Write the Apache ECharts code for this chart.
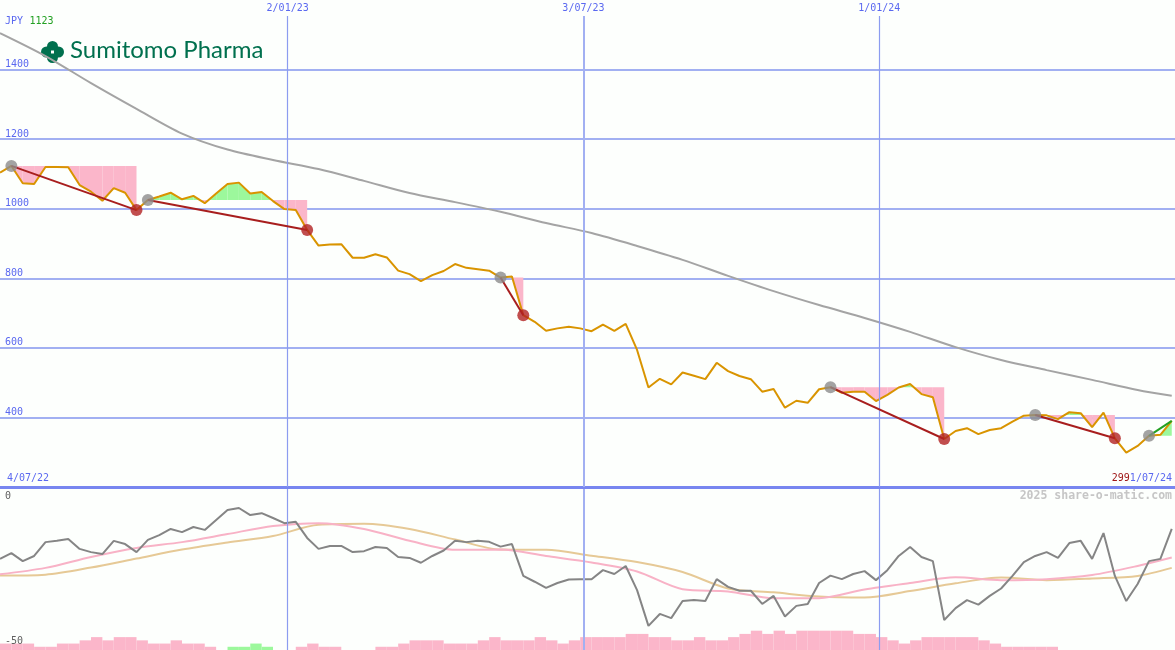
<!DOCTYPE html>
<html><head><meta charset="utf-8">
<script src="https://cdn.jsdelivr.net/npm/echarts@6/dist/echarts.min.js"></script>
<style>html,body{margin:0;padding:0;background:#fdfffd;}#c{width:1175px;height:650px;}</style>
</head><body><div id="c"></div>
<script>
// ---------- DATA ----------
// weekly closes (JPY), one per week starting at firstWeek
const firstWeekISO = '2022-07-09';
const axisEndISO = '2024-07-01';
const closePrice = [1104,1123,1073,1071,1120,1120,1119,1068,1049,1023,
  1059,1046,996,1025,1035,1046,1027,1037,1016,1044,
  1071,1075,1044,1048,1022,999,996,939,894,897,
  898,859,859,869,860,822,812,792,809,821,
  841,830,826,822,802,805,694,675,649,656,
  661,656,648,667,649,669,594,486,511,495,
  529,520,510,557,533,519,510,474,482,428,
  448,442,481,487,471,474,474,447,465,486,
  496,467,458,338,361,369,352,364,369,388,
  405,407,406,395,415,412,372,414,340,299,
  318,347,350,390];
// long moving average of price, sampled at these week indices
const maWeeks = [0,4,8,12,16,20,24,28,32,36,40,44,48,52,56,60,64,68,72,76,80,84,88,92,96,100,103];
const priceMA = [1505,1439,1361,1287,1216,1170,1140,1114,1080,1045,1019,991,959,930,893,853,807,763,723,686,646,602,565,536,508,479,462];
// drawdown segments: start (peak) week index -> end week index
const segStart = [1,13,44,73,91,101];
const segEnd   = [12,27,46,83,98,103];
// lower panel oscillator (weekly)
const oscValues = [-21.7,-19.9,-22.4,-20.8,-16.5,-16.1,-15.5,-18.6,-19.6,-20.2,
  -16.1,-17.1,-19.6,-15.8,-14.3,-12.4,-13.4,-11.8,-12.7,-9.6,
  -6.5,-5.9,-8.1,-7.5,-9.0,-10.6,-10.2,-15.2,-18.6,-17.7,
  -17.7,-19.6,-19.3,-18.0,-18.3,-21.1,-21.4,-22.9,-20.8,-19.1,
  -16.1,-16.5,-16.1,-16.4,-17.9,-17.1,-27.0,-28.8,-30.7,-29.2,
  -28.1,-28.0,-28.0,-25.2,-26.4,-23.9,-31.4,-42.5,-38.8,-40.1,
  -34.8,-34.5,-34.8,-28.0,-30.4,-31.6,-31.6,-35.7,-33.2,-39.6,
  -36.3,-35.7,-29.2,-26.9,-28.0,-26.4,-25.5,-28.3,-25.2,-20.8,
  -18.0,-21.1,-22.4,-40.7,-37.0,-34.5,-35.9,-33.2,-30.9,-27.0,
  -22.7,-20.8,-19.6,-21.4,-16.8,-16.1,-21.7,-13.7,-27.0,-34.8,
  -29.5,-22.4,-21.7,-12.4];
const oscFast = [-26.5,-24.5,-21.1,-18.3,-16.5,-14.0,-11.5,-10.6,-12.4,-16.1,-18.9,-18.8,-20.8,-22.8,-25.6,-31.1,-31.8,-33.9,-33.9,-31.2,-29.2,-27.4,-28.3,-28.0,-26.7,-23.9,-21.3];
const oscSlow = [-26.9,-26.6,-24.4,-21.6,-18.8,-16.6,-14.6,-11.1,-10.8,-12.4,-15.7,-18.8,-18.9,-20.7,-22.7,-25.8,-30.9,-32.1,-33.4,-33.7,-31.7,-29.3,-27.5,-28.3,-27.8,-27.0,-24.5];
// histogram per week interval (positive = pink, negative = green)
const histValues = [2,2,2,1,1,2,2,3,4,3,
  4,4,3,2,2,3,2,2,1,0,
  -1,-1,-2,-1,0,0,1,2,1,1,
  0,0,0,1,1,2,3,3,3,2,
  2,2,3,4,3,3,3,4,3,2,
  3,4,4,4,4,5,5,4,4,3,
  3,4,3,3,4,5,6,5,6,5,
  6,6,6,6,6,5,5,4,3,2,
  3,4,4,4,4,4,3,2,1,1,
  1,1,1,0,0,0,0,0,0,0,
  0,0,0];
const vLineDates = ['2023-01-02','2023-07-03','2024-01-01'];
const vLineLabels = ['2/01/23','3/07/23','1/01/24'];
const startLabel = '4/07/22';
const endLabel = '1/07/24';
const currency = 'JPY';

// ---------- BUILD ----------
const DAY = 864e5;
const t0 = Date.parse(firstWeekISO);
const weekDates = closePrice.map((_, i) => t0 + i * 7 * DAY);
const xMin = t0, xMax = Date.parse(axisEndISO);
const PINK = '#fbb6ca', GREEN = '#9cf89c';
const mono = '"DejaVu Sans Mono", monospace';
const BLUE = '#5a68f0';
const GRIDC = '#a2b0f2';
const vTopValue = 1554;

const shadeData = [];
segStart.forEach((s, k) => {
  const e = segEnd[k];
  for (let i = s; i < e; i++) {
    shadeData.push([weekDates[i], closePrice[i], weekDates[i + 1], closePrice[i + 1], closePrice[s]]);
  }
});
function renderShade(params, api) {
  const a0 = api.value(0), p0 = api.value(1), a1 = api.value(2), p1 = api.value(3), L = api.value(4);
  const A = api.coord([a0, p0]), B = api.coord([a1, p1]);
  const LA = api.coord([a0, L]), LB = api.coord([a1, L]);
  const d0 = p0 - L, d1 = p1 - L;
  const col = d => d > 0 ? GREEN : PINK;
  const polys = [];
  if ((d0 >= 0 && d1 >= 0) || (d0 <= 0 && d1 <= 0)) {
    polys.push({ pts: [LA, A, B, LB], c: (d0 + d1) > 0 ? GREEN : PINK });
  } else {
    const f = d0 / (d0 - d1);
    const C = api.coord([a0 + f * (a1 - a0), L]);
    polys.push({ pts: [LA, A, C], c: col(d0) });
    polys.push({ pts: [C, B, LB], c: col(d1) });
  }
  return { type: 'group', children: polys.map(p => ({ type: 'polygon', shape: { points: p.pts }, style: { fill: p.c } })) };
}
const histData = histValues.map((h, i) => [weekDates[i], weekDates[i + 1], h]);
function renderHist(params, api) {
  const a0 = api.value(0), a1 = api.value(1), h = api.value(2);
  if (!h) return null;
  const P0 = api.coord([a0, 0]), P1 = api.coord([a1, Math.abs(h)]);
  return { type: 'rect', shape: { x: P0[0], y: P1[1], width: P1[0] - P0[0], height: P0[1] - P1[1] }, style: { fill: h > 0 ? PINK : GREEN } };
}

const vWidths = [1.2, 2, 1.2];
const vColors = ['#8c9cf0', GRIDC, '#8c9cf0'];
const topVLines = vLineDates.map((d, k) => [
  { coord: [Date.parse(d), vTopValue], lineStyle: { width: vWidths[k], color: vColors[k] }, label: { formatter: vLineLabels[k] } },
  { coord: [Date.parse(d), 200] }
]);
const botVLines = vLineDates.map((d, k) => ({ xAxis: Date.parse(d), lineStyle: { width: vWidths[k], color: vColors[k] } }));

const trendSeries = segStart.map((s, k) => {
  const e = segEnd[k];
  const rising = closePrice[e] > closePrice[s];
  return {
    type: 'line', xAxisIndex: 0, yAxisIndex: 0, z: 5, silent: true, showSymbol: false,
    data: [[weekDates[s], closePrice[s]], [weekDates[e], closePrice[e]]],
    lineStyle: { color: rising ? '#22a022' : '#a81e1e', width: 2 }
  };
});
const peakPts = segStart.map(s => [weekDates[s], closePrice[s]]);
const troughPts = segStart.map((s, k) => segEnd[k]).filter((e, k) => closePrice[e] < closePrice[segStart[k]]).map(e => [weekDates[e], closePrice[e]]);

const maxP = Math.max(...closePrice), minP = Math.min(...closePrice);
const lowLabel = { inside: true, margin: 5, color: '#606060', fontFamily: mono, fontSize: 10, formatter: v => String(v) };

const chart = echarts.init(document.getElementById('c'), null, { renderer: 'canvas' });
chart.setOption({
  backgroundColor: '#fdfffd',
  animation: false,
  grid: [
    { left: 0, right: 0, top: 0, height: 487 },
    { left: 0, right: 0, top: 489, height: 161 }
  ],
  xAxis: [
    { type: 'time', gridIndex: 0, min: xMin, max: xMax,
      axisLine: { show: true, onZero: false, lineStyle: { color: '#7886f0', width: 3 } },
      axisTick: { show: false }, axisLabel: { show: false }, splitLine: { show: false } },
    { type: 'time', gridIndex: 1, min: xMin, max: xMax, show: false }
  ],
  yAxis: [
    { type: 'value', gridIndex: 0, min: 200, max: 1600, interval: 200,
      axisLine: { show: false }, axisTick: { show: false },
      axisLabel: { inside: true, margin: 5, verticalAlign: 'bottom', padding: [0, 0, 0, 0], color: BLUE, fontFamily: mono, fontSize: 10, showMinLabel: false, showMaxLabel: false, formatter: v => String(v) },
      splitLine: { show: true, showMinLine: false, showMaxLine: false, lineStyle: { color: GRIDC, width: 2 } } },
    { type: 'value', gridIndex: 1, position: 'left', offset: 0, min: -50, max: 0, interval: 50, z: 10,
      axisLine: { show: false }, axisTick: { show: false }, splitLine: { show: false },
      axisLabel: Object.assign({}, lowLabel, { verticalAlign: 'top', padding: [2, 0, 0, 0], showMinLabel: false }) },
    { type: 'value', gridIndex: 1, min: 0, max: 50, show: false },
    { type: 'value', gridIndex: 1, position: 'left', offset: 0, min: -50, max: 0, interval: 50, z: 10,
      axisLine: { show: false }, axisTick: { show: false }, splitLine: { show: false },
      axisLabel: Object.assign({}, lowLabel, { verticalAlign: 'bottom', padding: [0, 0, 4, 0], showMaxLabel: false }) }
  ],
  series: [
    { type: 'line', xAxisIndex: 0, yAxisIndex: 0, z: 1, silent: true, data: [], showSymbol: false,
      markLine: { silent: true, symbol: ['none', 'none'], animation: false,
        lineStyle: { color: GRIDC, type: 'solid' },
        label: { position: 'start', distance: 3, color: BLUE, fontFamily: mono, fontSize: 10 },
        data: topVLines } },
    { type: 'custom', xAxisIndex: 0, yAxisIndex: 0, z: 2, silent: true, renderItem: renderShade,
      encode: { x: [0, 2], y: [1, 3, 4] }, data: shadeData },
    { type: 'line', xAxisIndex: 0, yAxisIndex: 0, z: 3, silent: true, showSymbol: false, smooth: 0.3,
      data: maWeeks.map((w, k) => [weekDates[w], priceMA[k]]),
      lineStyle: { color: '#a4a4a4', width: 2 } },
    { type: 'line', xAxisIndex: 0, yAxisIndex: 0, z: 4, silent: true, showSymbol: false,
      data: closePrice.map((p, i) => [weekDates[i], p]),
      lineStyle: { color: '#d99400', width: 2 } },
    ...trendSeries,
    { type: 'scatter', xAxisIndex: 0, yAxisIndex: 0, z: 6, silent: true, symbolSize: 12,
      itemStyle: { color: '#8c8c8c' }, data: peakPts },
    { type: 'scatter', xAxisIndex: 0, yAxisIndex: 0, z: 6, silent: true, symbolSize: 12,
      itemStyle: { color: '#b22222' }, data: troughPts },
    // lower panel
    { type: 'custom', xAxisIndex: 1, yAxisIndex: 2, z: 2, silent: true, renderItem: renderHist,
      encode: { x: [0, 1], y: 2 }, data: histData },
    { type: 'line', xAxisIndex: 1, yAxisIndex: 1, z: 1, silent: true, data: [], showSymbol: false,
      markLine: { silent: true, symbol: ['none', 'none'], animation: false, label: { show: false },
        lineStyle: { color: GRIDC, type: 'solid' }, data: botVLines } },
    { type: 'line', xAxisIndex: 1, yAxisIndex: 1, z: 3, silent: true, showSymbol: false, smooth: 0.3,
      data: maWeeks.map((w, k) => [weekDates[w], oscSlow[k]]),
      lineStyle: { color: '#e6c996', width: 2 } },
    { type: 'line', xAxisIndex: 1, yAxisIndex: 1, z: 3, silent: true, showSymbol: false, smooth: 0.3,
      data: maWeeks.map((w, k) => [weekDates[w], oscFast[k]]),
      lineStyle: { color: '#f8b2c6', width: 2 } },
    { type: 'line', xAxisIndex: 1, yAxisIndex: 1, z: 4, silent: true, showSymbol: false,
      data: oscValues.map((v, i) => [weekDates[i], v]),
      lineStyle: { color: '#858585', width: 2 } }
  ],
  graphic: [
    { type: 'text', left: 5, top: 15, z: 10, style: { text: '{a|' + currency + '} {b|' + maxP + '}',
      rich: { a: { fill: BLUE, fontFamily: mono, fontSize: 10 }, b: { fill: '#22a022', fontFamily: mono, fontSize: 10, padding: [0, 0, 0, 3] } } } },
    { type: 'group', left: 41, top: 41, z: 10, children: [
      { type: 'circle', shape: { cx: 12, cy: 5, r: 5.5 }, style: { fill: '#00704e' } },
      { type: 'circle', shape: { cx: 12, cy: 16, r: 5.5 }, style: { fill: '#00704e' } },
      { type: 'circle', shape: { cx: 6, cy: 10.5, r: 5.5 }, style: { fill: '#00704e' } },
      { type: 'circle', shape: { cx: 18, cy: 10.5, r: 5.5 }, style: { fill: '#00704e' } },
      { type: 'rect', shape: { x: 10.5, y: 9, width: 3, height: 3 }, style: { fill: '#fdfffd' } }
    ] },
    { type: 'text', left: 70, top: 38, z: 10, style: { text: 'Sumitomo Pharma', fill: '#00704e', fontFamily: 'Lato', fontSize: 24 } },
    { type: 'text', left: 7, top: 473, z: 10, style: { text: startLabel, fill: BLUE, fontFamily: mono, fontSize: 10 } },
    { type: 'text', right: 3, top: 473, z: 10, style: { text: '{r|' + minP + '}{b|' + endLabel + '}',
      rich: { r: { fill: '#a01818', fontFamily: mono, fontSize: 10 }, b: { fill: BLUE, fontFamily: mono, fontSize: 10 } } } },
    { type: 'text', right: 3, top: 490, z: 10, style: { text: '2025 share-o-matic.com', fill: '#c6c6c6', fontFamily: mono, fontSize: 11.5, fontWeight: 'bold' } }
  ]
});
</script></body></html>
